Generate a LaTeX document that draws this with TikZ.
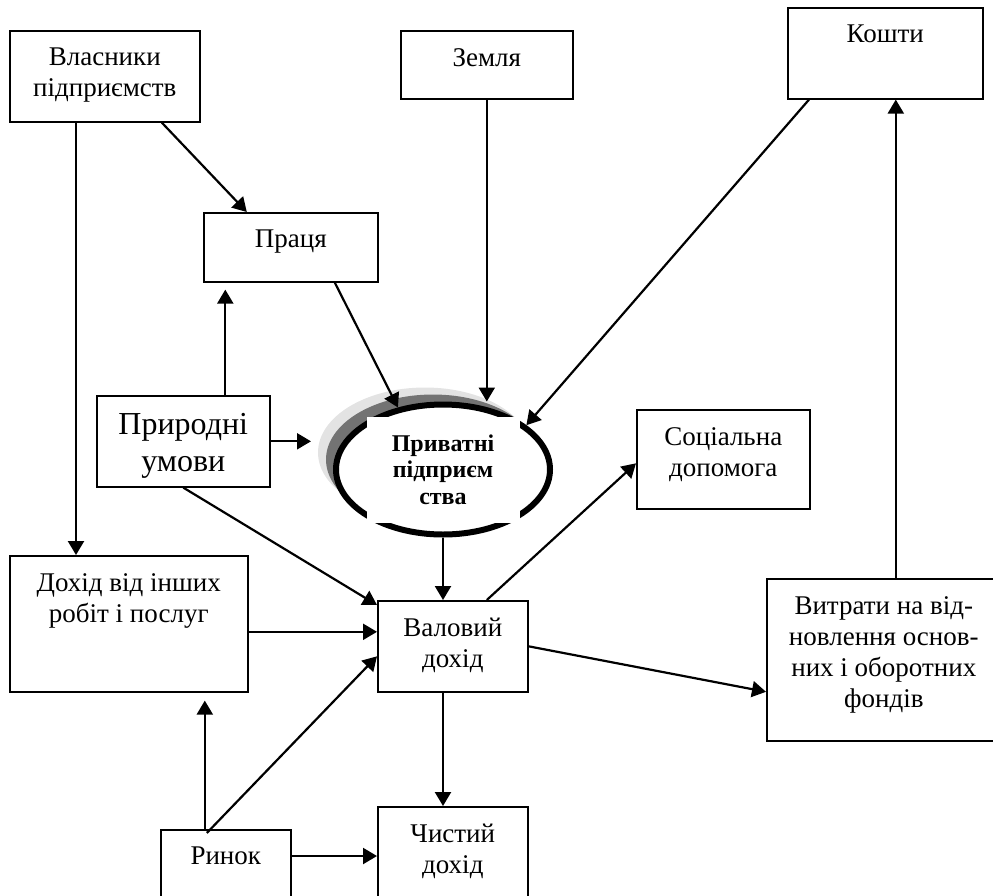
\documentclass[tikz,border=0pt]{standalone}
\usepackage{fontspec}
\setmainfont{Liberation Serif}
\usetikzlibrary{arrows.meta,shapes.geometric,shadows}

\tikzset{
  block/.style={draw, line width=1.6pt, inner sep=0pt, anchor=north west},
  blocktext/.style={anchor=north, align=center, inner sep=0pt, yshift=-18pt,
    font=\fontsize{27}{31}\selectfont},
  flow/.style={-{Triangle[length=14pt,width=16pt]}, line width=2.2pt},
  firm/.style={ellipse, draw, fill=white, line width=6pt, inner sep=0pt,
    minimum width=214pt, minimum height=130pt,
    general shadow={shadow xshift=-18pt, shadow yshift=17pt, fill=gray!22},
    general shadow={shadow xshift=-10pt, shadow yshift=10pt, fill=black!55}},
  firmtext/.style={fill=white, inner sep=0pt, align=center,
    minimum width=153pt, minimum height=106pt,
    font=\bfseries\fontsize{24}{26.5}\selectfont},
}

\begin{document}
\begin{tikzpicture}[x = 1pt, y = -1pt]
\useasboundingbox (0, 0) rectangle (993, 895);

\node[block, minimum width=190, minimum height=91,
  label={[blocktext]north:Власники\\підприємств}] (vlas) at (9, 30) {};
\node[block, minimum width=172, minimum height=68,
  label={[blocktext]north:Земля}] (zem) at (400, 30) {};
\node[block, minimum width=195, minimum height=91,
  label={[blocktext]north:Кошти}] (kosh) at (787, 7) {};
\node[block, minimum width=174, minimum height=69,
  label={[blocktext]north:Праця}] (praca) at (203, 212) {};
\node[block, minimum width=173, minimum height=91,
  label={[blocktext, font=\fontsize{32}{37}\selectfont]north:Природні\\умови}] (prir) at (96, 395) {};
\node[block, minimum width=173, minimum height=99,
  label={[blocktext]north:Соціальна\\допомога}] (soc) at (636, 409) {};
\node[block, minimum width=238, minimum height=136,
  label={[blocktext]north:Дохід від інших\\робіт і послуг}] (doh) at (9, 555) {};
\node[block, minimum width=150, minimum height=91,
  label={[blocktext]north:Валовий\\дохід}] (val) at (377, 600) {};
\node[block, minimum width=234, minimum height=162,
  label={[blocktext]north:Витрати на від-\\новлення основ-\\них і оборотних\\фондів}] (vit) at (766, 578) {};
\node[block, minimum width=130, minimum height=76,
  label={[blocktext]north:Ринок}] (rin) at (160, 829) {};
\node[block, minimum width=150, minimum height=99,
  label={[blocktext]north:Чистий\\дохід}] (chis) at (377, 806) {};

\node[firm] (ent) at (443, 469.5) {};
\node[firmtext] (enttxt) at (ent.center) {Приватні\\підприєм\\ства};

\draw[flow] ([xshift=57pt]vlas.south) -- ([xshift=-44pt]praca.north);
\draw[flow] ([xshift=67pt]vlas.south west) -- ([xshift=67pt]vlas.south west |- doh.north);
\draw[flow] (zem.south) -- (zem.south |- ent.north);
\draw[flow] ([xshift=22pt]kosh.south west) -- (ent.28);
\draw[flow] ([xshift=44pt]praca.south) -- (ent.126);
\draw[flow, shorten >=7pt] ([xshift=42pt]prir.north) -- ([xshift=42pt]prir.north |- praca.south);
\draw[flow, shorten >=22pt] (prir.east) -- (prir.east -| ent.west);
\draw[flow] (prir.south) -- ([yshift=-5pt]val.north west);
\draw[flow] (ent.south) -- (ent.south |- val.north);
\draw[flow] ([xshift=34pt]val.north) -- ([yshift=-4pt]soc.west);
\draw[flow] ([yshift=-8pt]doh.east) -- ([yshift=-8pt]doh.east -| val.west);
\draw[flow] (val.east) -- ([yshift=-32pt]vit.west);
\draw[flow] ([xshift=12pt]vit.north) -- ([xshift=12pt]vit.north |- kosh.south);
\draw[flow, shorten >=8pt] ([xshift=-21pt]rin.north) -- ([xshift=-21pt]rin.north |- doh.south);
\draw[flow] ([xshift=-19pt, yshift=-4pt]rin.north) -- ([yshift=-10pt]val.west);
\draw[flow] ([yshift=-27pt]rin.north east) -- ([yshift=-27pt]rin.north east -| chis.west);
\draw[flow] (val.south -| ent.south) -- (ent.south |- chis.north);
\end{tikzpicture}
\end{document}
